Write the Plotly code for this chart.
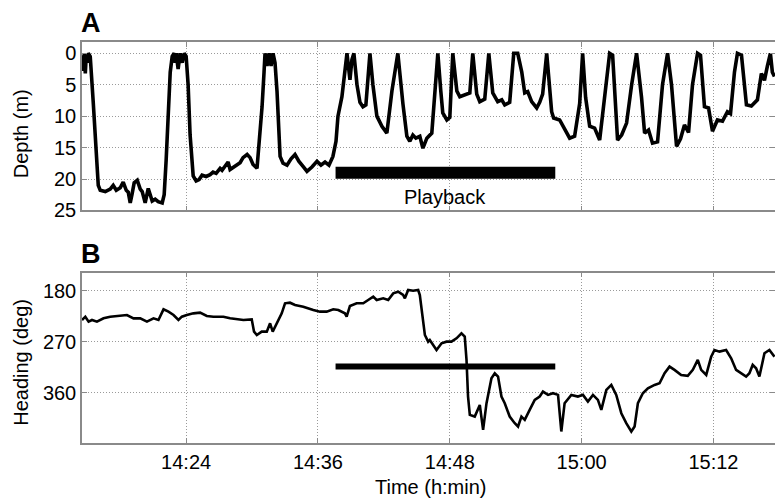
import pandas as pd
import plotly.graph_objects as go

BASE = "2000-01-01 14:00:00"

# minutes after 14:00 and depth (m)
depth_min = [14.55, 14.64, 14.73, 14.82, 14.91, 15.0, 15.09, 15.27, 15.55, 15.82, 16.0, 16.18, 16.64, 17.09,
             17.36, 17.64, 18.0, 18.27, 18.55, 18.73, 18.91, 19.09, 19.27, 19.55, 19.82, 20.0, 20.27, 20.55,
             20.73, 20.91, 21.18, 21.45, 21.82, 22.0, 22.18, 22.36, 22.55, 22.73, 22.91, 23.0, 23.09, 23.27,
             23.45, 23.64, 23.82, 24.0, 24.18, 24.36, 24.64, 24.91, 25.18, 25.45, 25.82, 26.18, 26.45, 26.73,
             27.09, 27.27, 27.55, 27.82, 28.0, 28.27, 28.64, 28.91, 29.18, 29.55, 29.82, 30.09, 30.45, 30.73,
             30.91, 31.09, 31.18, 31.36, 31.55, 31.73, 31.91, 32.09, 32.27, 32.55, 32.82, 33.18, 33.55, 33.91,
             34.27, 34.64, 35.0, 35.45, 35.91, 36.27, 36.64, 37.0, 37.36, 37.64, 37.82, 38.18, 38.45, 38.64,
             38.91, 39.09, 39.27, 39.55, 39.82, 40.09, 40.36, 40.73, 41.0, 41.36, 41.82, 42.27, 42.73, 43.27,
             43.73, 44.09, 44.36, 44.64, 44.91, 45.27, 45.55, 45.91, 46.36, 46.64, 46.91, 47.18, 47.36, 47.73,
             48.0, 48.27, 48.64, 48.91, 49.36, 49.82, 50.09, 50.45, 50.73, 51.18, 51.55, 51.91, 52.36, 52.73,
             53.0, 53.45, 53.82, 54.18, 54.55, 54.82, 55.09, 55.45, 55.91, 56.18, 56.45, 56.82, 57.27, 57.45,
             58.0, 58.45, 58.91, 59.36, 59.82, 60.09, 60.36, 60.73, 61.18, 61.64, 62.09, 62.55, 62.82, 63.27,
             63.64, 64.09, 64.55, 65.0, 65.45, 65.73, 66.09, 66.45, 66.91, 67.36, 67.82, 68.18, 68.64, 69.0,
             69.36, 69.73, 70.09, 70.55, 70.82, 71.18, 71.55, 71.91, 72.36, 72.82, 73.27, 73.55, 73.91, 74.18,
             74.55, 75.0, 75.45, 76.0, 76.36, 76.64, 76.91, 77.18, 77.36, 77.55]
depth_m = [0.3, 2.8, 0, 3.2, 0.2, 1.5, 0, 0.5, 8, 17, 21, 21.8, 22, 21.6,
           21.0, 21.8, 21.4, 20.5, 21.8, 22.1, 23.8, 22.3, 20.6, 20.2, 21.6, 22, 23.8, 21.5,
           22.8, 23.5, 23.2, 23.6, 23.8, 22.5, 17, 9, 3, 0.5, 0, 1.5, 0, 2.5,
           0, 1.5, 0, 0.5, 5, 13, 19.5, 20.3, 20.1, 19.4, 19.6, 19.3, 18.9, 19.1,
           18.3, 18.6, 17.8, 17.3, 18.5, 18.2, 17.8, 17.4, 16.6, 16.1, 16.6, 17.7, 18.3, 13,
           8.5, 3, 0, 2, 0, 2, 0, 1.5, 6, 16.4, 17.5, 17.8, 16.8, 16.1,
           17.2, 18, 18.8, 18.1, 17.2, 17.8, 17.3, 17.8, 16.4, 14, 10, 6.9, 2.5, 0,
           4.2, 1, 0, 5, 7.8, 8.5, 8.2, 0, 5, 10, 11.6, 12.7, 6, 0,
           8, 13.2, 14, 13, 13.5, 13.2, 15.1, 13.5, 12.7, 6, 0, 6, 9.5, 10.6,
           10.2, 0, 6, 6.9, 6.6, 6.3, 0, 6.5, 7.7, 7.3, 0, 6.3, 7.7, 7.4,
           8.2, 7.8, 0, 0, 3, 6.3, 6.1, 7.7, 8.7, 7.8, 6.5, 0, 9.3, 10.3,
           10.6, 11.9, 13.5, 13.2, 8, 0, 7, 11.6, 11.9, 13.8, 7, 0, 0.3, 13.8,
           13, 11.1, 5, 0, 7, 12.7, 12.2, 14.3, 14.1, 5, 0, 5, 14.8, 13.6,
           11.4, 12.6, 5, 0, 0.3, 8.5, 8.7, 12.4, 10.6, 10.8, 9.3, 9.6, 3, 0,
           0.3, 8.2, 8.4, 7.4, 3.2, 4.3, 2, 0, 3, 3.7]

# minutes after 14:00 and heading (deg)
head_min = [14.52, 14.82, 15.12, 15.43, 15.88, 16.48, 17.09, 18.0, 18.61, 19.21, 19.82, 20.43, 21.03, 21.48,
            21.94, 22.39, 22.85, 23.3, 23.61, 24.06, 24.66, 25.27, 25.88, 26.48, 27.39, 28.0, 28.61, 29.21,
            29.97, 30.18, 30.43, 30.88, 31.34, 31.64, 31.88, 32.25, 32.7, 33.0, 33.45, 33.91, 34.66, 35.57,
            36.18, 36.79, 37.39, 37.85, 38.45, 38.61, 38.91, 39.52, 40.12, 40.57, 41.03, 41.34, 41.94, 42.39,
            42.85, 43.3, 43.75, 43.91, 44.21, 44.66, 45.12, 45.27, 45.52, 45.73, 46.03, 46.18, 46.79, 47.25,
            47.7, 48.15, 48.61, 49.06, 49.36, 49.52, 49.66, 49.82, 50.27, 50.73, 51.03, 51.34, 51.79, 52.09,
            52.39, 52.7, 53.0, 53.45, 53.91, 54.21, 54.52, 54.82, 55.27, 55.73, 56.18, 56.48, 56.94, 57.39,
            57.85, 58.15, 58.45, 59.06, 59.66, 60.12, 60.57, 61.03, 61.48, 61.79, 62.25, 62.7, 63.15, 63.61,
            64.06, 64.52, 64.82, 65.12, 65.57, 66.03, 66.64, 67.09, 67.55, 68.0, 68.45, 69.06, 69.66, 70.12,
            70.57, 70.88, 71.34, 71.79, 72.09, 72.55, 73.15, 73.61, 74.06, 74.52, 74.97, 75.27, 75.57, 75.88,
            76.18, 76.64, 77.09, 77.55]
head_deg = [231.7, 225.9, 234.7, 231.7, 234.7, 228.8, 225.9, 224.7, 222.9, 228.8, 228.8, 234.7, 228.8, 231.7,
            212.9, 217, 222.9, 231.7, 225.9, 222.9, 220, 218.8, 224.7, 225.9, 225.9, 228.8, 230.6, 231.7,
            230.6, 252.3, 258.2, 252.3, 252.3, 237.6, 252.3, 237.6, 220, 202.3, 201.2, 205.3, 208.2, 214.1,
            217, 217, 212.9, 214.1, 220, 225.9, 207, 202.3, 202.3, 196.5, 190.6, 196.5, 193.5, 196.5,
            184.7, 181.8, 187.6, 193.5, 178.8, 180, 178.8, 187.6, 231.7, 258.2, 270, 267, 284.7, 272.9,
            270, 270, 264.1, 255.3, 261.1, 302.3, 367, 399.3, 402.3, 381.7, 425.8, 378.7, 334.6, 325.8,
            331.7, 367, 378.7, 402.3, 414, 419.9, 402.3, 408.1, 390.5, 372.9, 367, 358.2, 364, 361.1,
            364, 428.7, 378.7, 364, 367, 364, 375.8, 364, 372.9, 390.5, 355.2, 346.4, 364, 396.4,
            414, 428.7, 419.9, 378.7, 361.1, 352.3, 346.4, 343.5, 325.8, 314.1, 319.9, 328.8, 330.5, 319.9,
            302.3, 319.9, 328.8, 296.4, 284.7, 287.6, 284.7, 299.4, 319.9, 325.8, 331.7, 325.8, 311.1, 317,
            331.7, 290.5, 284.7, 296.4]

playback_min = [37.6, 57.6]
playback_depth = [19, 19]
playback_head = [314, 314]

x_range_min = [14.52, 77.6]
tick_min = [24, 36, 48, 60, 72]
tick_labels = ["14:24", "14:36", "14:48", "15:00", "15:12"]
depth_ticks = [0, 5, 10, 15, 20, 25]
depth_range = [25, -1.8]
head_ticks = [180, 270, 360]
head_range = [449, 148]


def to_time(mins):
    return list(pd.Timestamp(BASE) + pd.to_timedelta(mins, unit="m"))


FONT = "Liberation Sans, Arial, Helvetica, sans-serif"
FRAME = "#8a8a8a"
GRID = "#9a9a9a"
DOTS = "1px,2px"
FS = 20

fig = go.Figure()
fig.add_trace(go.Scatter(x=to_time(depth_min), y=depth_m, mode="lines",
                         line=dict(color="black", width=3.6), xaxis="x", yaxis="y", showlegend=False))
fig.add_trace(go.Scatter(x=to_time(playback_min), y=playback_depth, mode="lines",
                         line=dict(color="black", width=12), xaxis="x", yaxis="y", showlegend=False))
fig.add_trace(go.Scatter(x=to_time(head_min), y=head_deg, mode="lines",
                         line=dict(color="black", width=2.6), xaxis="x2", yaxis="y2", showlegend=False))
fig.add_trace(go.Scatter(x=to_time(playback_min), y=playback_head, mode="lines",
                         line=dict(color="black", width=6), xaxis="x2", yaxis="y2", showlegend=False))

common_x = dict(range=to_time(x_range_min), tickvals=to_time(tick_min), ticktext=tick_labels,
                showgrid=True, gridcolor=GRID, griddash=DOTS, gridwidth=1, automargin=False,
                showline=True, linecolor=FRAME, linewidth=1.5, mirror="ticks",
                ticks="inside", ticklen=5, tickcolor=FRAME, zeroline=False)
common_y = dict(showgrid=True, gridcolor=GRID, griddash=DOTS, gridwidth=1, automargin=False,
                showline=True, linecolor=FRAME, linewidth=1.5, mirror="ticks",
                ticks="inside", ticklen=5, tickcolor=FRAME, zeroline=False,
                tickfont=dict(size=FS, color="black"))

fig.update_layout(
    width=775, height=498,
    margin=dict(l=82, r=0, t=42, b=55),
    paper_bgcolor="white", plot_bgcolor="white",
    font=dict(family=FONT, color="black", size=FS),
    xaxis=dict(domain=[0, 1], anchor="y", showticklabels=False, matches="x2", **common_x),
    yaxis=dict(domain=[0.58, 1], anchor="x", range=depth_range, tickvals=depth_ticks, **common_y),
    xaxis2=dict(domain=[0, 1], anchor="y2", showticklabels=True, tickfont=dict(size=FS, color="black"),
                **common_x),
    yaxis2=dict(domain=[0, 0.425], anchor="x2", range=head_range, tickvals=head_ticks, **common_y),
    annotations=[
        dict(text="<b>A</b>", xref="paper", yref="paper", x=0, y=1, xanchor="left", yanchor="bottom",
             yshift=2, xshift=-3, showarrow=False, font=dict(size=27)),
        dict(text="<b>B</b>", xref="paper", yref="paper", x=0, y=0.425, xanchor="left", yanchor="bottom",
             yshift=2, xshift=-3, showarrow=False, font=dict(size=27)),
        dict(text="Depth (m)", xref="paper", yref="paper", x=0, y=0.79, xshift=-61, yshift=-8,
             xanchor="center", yanchor="middle", textangle=-90, showarrow=False, font=dict(size=FS)),
        dict(text="Heading (deg)", xref="paper", yref="paper", x=0, y=0.2125, xshift=-61, yshift=-5,
             xanchor="center", yanchor="middle", textangle=-90, showarrow=False, font=dict(size=FS)),
        dict(text="Time (h:min)", xref="paper", yref="paper", x=0.503, y=0, yanchor="middle",
             yshift=-44, showarrow=False, font=dict(size=FS)),
        dict(text="Playback", xref="x", yref="y", x=to_time([47.6])[0], y=22.8,
             showarrow=False, font=dict(size=FS)),
    ],
)

fig.write_html("out.html", config={"displayModeBar": False},
               post_script="document.body.style.margin='0px';document.body.style.overflow='hidden';")
